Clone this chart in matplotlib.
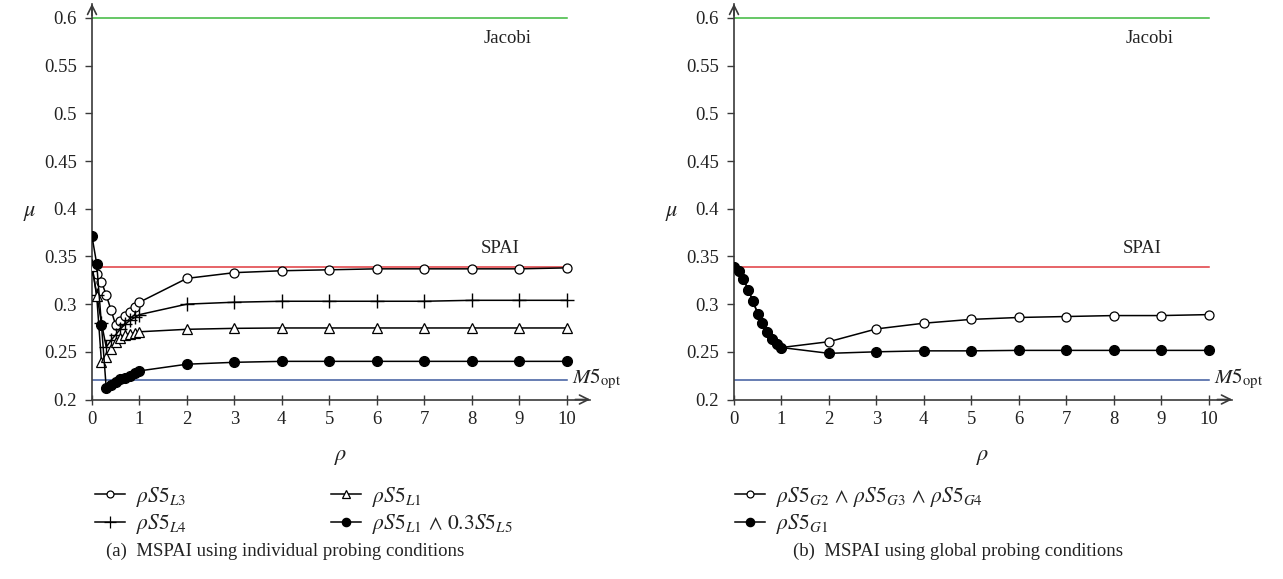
import matplotlib
matplotlib.use("Agg")
import matplotlib.pyplot as plt
from matplotlib.lines import Line2D

plt.rcParams['font.family'] = ['Liberation Serif', 'DejaVu Serif']
plt.rcParams['mathtext.fontset'] = 'stix'

# ---------------- data ----------------
rho = [0, 0.1, 0.2, 0.3, 0.4, 0.5, 0.6, 0.7, 0.8, 0.9, 1.0,
       2, 3, 4, 5, 6, 7, 8, 9, 10]

mu_L3 = [0.340, 0.332, 0.3235, 0.3095, 0.294, 0.278, 0.282, 0.288, 0.292, 0.297, 0.302,
         0.327, 0.333, 0.335, 0.336, 0.337, 0.337, 0.337, 0.337, 0.338]
mu_L4 = [0.340, 0.310, 0.280, 0.255, 0.262, 0.268, 0.274, 0.279, 0.283, 0.286, 0.289,
         0.300, 0.302, 0.303, 0.303, 0.303, 0.303, 0.304, 0.304, 0.304]
mu_L1 = [0.340, 0.308, 0.239, 0.245, 0.253, 0.260, 0.264, 0.268, 0.269, 0.270, 0.271,
         0.2736, 0.2746, 0.275, 0.275, 0.275, 0.275, 0.275, 0.275, 0.275]
mu_L1L5 = [0.371, 0.342, 0.278, 0.212, 0.215, 0.218, 0.221, 0.223, 0.225, 0.228, 0.230,
           0.237, 0.239, 0.240, 0.240, 0.240, 0.240, 0.240, 0.240, 0.240]

mu_G234 = [0.339, 0.335, 0.326, 0.315, 0.303, 0.290, 0.2805, 0.271, 0.263, 0.258, 0.2545,
           0.2606, 0.274, 0.280, 0.284, 0.286, 0.287, 0.288, 0.288, 0.289]
mu_G1 = [0.339, 0.335, 0.326, 0.315, 0.303, 0.290, 0.2805, 0.271, 0.263, 0.258, 0.2545,
         0.2484, 0.250, 0.251, 0.251, 0.2515, 0.2515, 0.2515, 0.2515, 0.2515]

mu_jacobi = 0.600
mu_spai = 0.339
mu_m5opt = 0.220

xticks = list(range(0, 11))
yticks = [0.2, 0.25, 0.3, 0.35, 0.4, 0.45, 0.5, 0.55, 0.6]
ytick_labels = ['0.2', '0.25', '0.3', '0.35', '0.4', '0.45', '0.5', '0.55', '0.6']

# ---------------- figure ----------------
W, H = 1283, 579
fig = plt.figure(figsize=(W / 100, H / 100), dpi=100)

XMAX, YMAX = 10.5, 0.615
px_x = 47.45
px_y = 953.75
ax_w = XMAX * px_x / W
ax_h = (YMAX - 0.2) * px_y / H
bottom = (H - 399.5) / H

axL = fig.add_axes([92 / W, bottom, ax_w, ax_h])
axR = fig.add_axes([734 / W, bottom, ax_w, ax_h])

axis_col = '#3a3a3a'
txt_col = '#222222'
fs = 13.5

def style(ax):
    ax.set_xlim(0, XMAX)
    ax.set_ylim(0.2, YMAX)
    for s in ['top', 'right']:
        ax.spines[s].set_visible(False)
    for s in ['left', 'bottom']:
        ax.spines[s].set_color(axis_col)
        ax.spines[s].set_linewidth(1.2)
    ax.set_xticks(xticks)
    ax.set_yticks(yticks)
    ax.set_yticklabels(ytick_labels)
    ax.tick_params(axis='x', direction='inout', length=7, width=1, colors=axis_col,
                   labelsize=fs, labelcolor=txt_col, pad=5)
    ax.tick_params(axis='y', direction='out', length=5, width=1, colors=axis_col,
                   labelsize=fs, labelcolor=txt_col, pad=6)
    # arrows
    ax.annotate('', xy=(1.0, 0), xycoords='axes fraction', xytext=(0.97, 0),
                arrowprops=dict(arrowstyle='->', color=axis_col, lw=1.2,
                                mutation_scale=16, shrinkA=0, shrinkB=0))
    ax.annotate('', xy=(0, 1.0), xycoords='axes fraction', xytext=(0, 0.97),
                arrowprops=dict(arrowstyle='->', color=axis_col, lw=1.2,
                                mutation_scale=16, shrinkA=0, shrinkB=0))
    ax.set_xlabel(r'$\rho$', fontsize=16, color=txt_col, labelpad=14)
    ax.set_ylabel(r'$\mu$', fontsize=16, color=txt_col, rotation=0, labelpad=22)
    ax.yaxis.set_label_coords(-0.125, 0.445)
    # reference lines
    ax.plot([0, 10], [mu_jacobi, mu_jacobi], color='#3cb83c', lw=1.1, zorder=1)
    ax.plot([0, 10], [mu_spai, mu_spai], color='#e0393e', lw=1.1, zorder=1)
    ax.plot([0, 10], [mu_m5opt, mu_m5opt], color='#3d5a9e', lw=1.1, zorder=1)
    ax.text(8.75, 0.579, 'Jacobi', fontsize=fs, color=txt_col, ha='center', va='center')
    ax.text(8.6, 0.358, 'SPAI', fontsize=fs, color=txt_col, ha='center', va='center')
    ax.text(10.12, 0.222, r'$M5_{\rm opt}$', fontsize=fs + 1.5, color=txt_col,
            ha='left', va='center')

style(axL)
style(axR)

lc = 'black'
lw = 1.1
axL.plot(rho, mu_L3, color=lc, lw=lw, marker='o', ms=6.5, mfc='white', mec=lc,
         mew=0.9, zorder=3)
axL.plot(rho, mu_L4, color=lc, lw=lw, marker='+', ms=10, mec=lc, mew=1.0, zorder=3)
axL.plot(rho, mu_L1, color=lc, lw=lw, marker='^', ms=7, mfc='white', mec=lc,
         mew=0.9, zorder=3)
axL.plot(rho, mu_L1L5, color=lc, lw=lw, marker='o', ms=7, mfc=lc, mec=lc, zorder=4)

axR.plot(rho, mu_G234, color=lc, lw=lw, marker='o', ms=6.5, mfc='white', mec=lc,
         mew=0.9, zorder=3)
axR.plot(rho, mu_G1, color=lc, lw=lw, marker='o', ms=7, mfc=lc, mec=lc, zorder=4)

# legends
lfs = 15.5

def h(marker, ms, mfc):
    return Line2D([], [], color=lc, lw=lw, marker=marker, ms=ms, mfc=mfc, mec=lc, mew=0.9)

handlesL = [h('o', 5, 'white'), h('+', 9, lc), h('^', 5.5, 'white'), h('o', 6, lc)]
labelsL = [r'$\rho S5_{L3}$', r'$\rho S5_{L4}$', r'$\rho S5_{L1}$',
           r'$\rho S5_{L1}\,\wedge\,0.3S5_{L5}$']
legL = fig.legend(handlesL, labelsL, loc='upper left', bbox_to_anchor=(95 / W, 1 - 485 / H),
                  ncol=2, frameon=False, fontsize=lfs, handlelength=1.4, handletextpad=0.5,
                  columnspacing=6.7, labelspacing=0.15, borderaxespad=0, borderpad=0)
for t in legL.get_texts():
    t.set_color(txt_col)

handlesR = [h('o', 5, 'white'), h('o', 6, lc)]
labelsR = [r'$\rho S5_{G2}\,\wedge\,\rho S5_{G3}\,\wedge\,\rho S5_{G4}$', r'$\rho S5_{G1}$']
legR = fig.legend(handlesR, labelsR, loc='upper left', bbox_to_anchor=(735 / W, 1 - 485 / H),
                  ncol=1, frameon=False, fontsize=lfs, handlelength=1.4, handletextpad=0.5,
                  labelspacing=0.15, borderaxespad=0, borderpad=0)
for t in legR.get_texts():
    t.set_color(txt_col)

fig.text(285 / W, 1 - 551 / H, '(a)  MSPAI using individual probing conditions',
         fontsize=fs, color=txt_col, ha='center', va='center')
fig.text(958 / W, 1 - 551 / H, '(b)  MSPAI using global probing conditions',
         fontsize=fs, color=txt_col, ha='center', va='center')

fig.savefig('out.png', dpi=100)
